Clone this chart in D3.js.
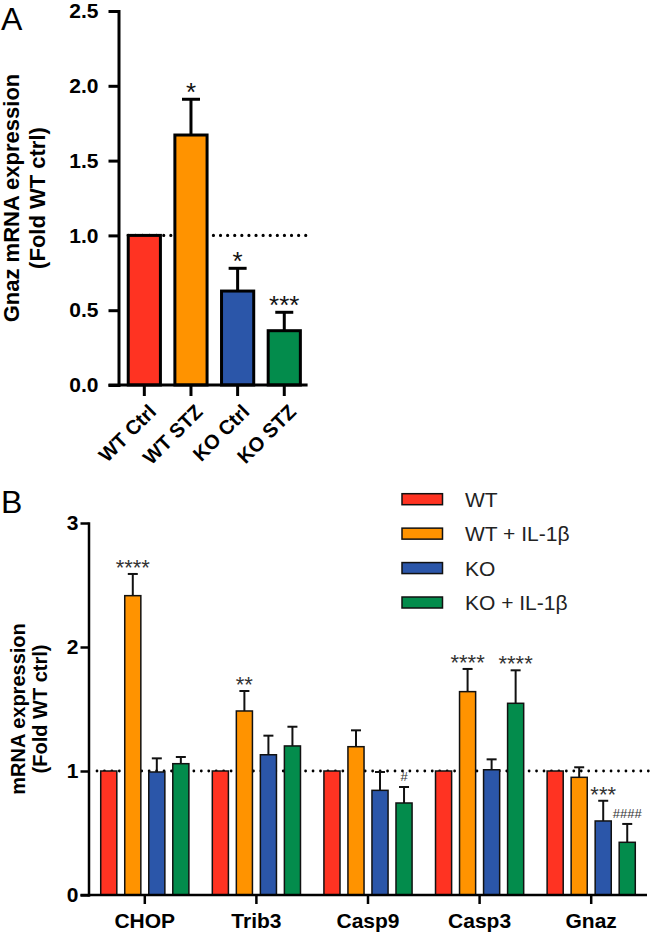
<!DOCTYPE html>
<html>
<head>
<meta charset="utf-8">
<script src="https://cdn.jsdelivr.net/npm/d3@7"></script>
<style>
  html, body { margin: 0; padding: 0; background: #fff; }
  svg { display: block; font-family: "Liberation Sans", Arial, Helvetica, sans-serif; }
</style>
</head>
<body>
<svg id="chart" width="654" height="935"></svg>
<script>
// ---------- Panel A data ----------
const groupsA = ["WT Ctrl", "WT STZ", "KO Ctrl", "KO STZ"];
const valuesA = [1.0, 1.671, 0.628, 0.363];
const errorsA = [0, 0.239, 0.152, 0.123];
const starsA = ["", "*", "*", "***"];
const ticksA = [0.0, 0.5, 1.0, 1.5, 2.0, 2.5];
const colorsA = ["#FF3322", "#FF9300", "#2B56A9", "#038C4C"];

// ---------- Panel B data ----------
const genesB = ["CHOP", "Trib3", "Casp9", "Casp3", "Gnaz"];
const seriesB = ["WT", "WT + IL-1\u03B2", "KO", "KO + IL-1\u03B2"];
const colorsB = ["#FF3322", "#FF9300", "#2B56A9", "#038C4C"];
const valWT    = [1, 1, 1, 1, 1];
const valWTIL  = [2.414, 1.484, 1.196, 1.640, 0.949];
const valKO    = [0.992, 1.131, 0.844, 1.010, 0.597];
const valKOIL  = [1.059, 1.202, 0.742, 1.546, 0.425];
const errWT    = [0, 0, 0, 0, 0];
const errWTIL  = [0.175, 0.161, 0.132, 0.183, 0.081];
const errKO    = [0.110, 0.154, 0.148, 0.084, 0.163];
const errKOIL  = [0.054, 0.155, 0.129, 0.266, 0.148];
const starsWTIL = ["****", "**", "", "****", ""];
const starsKO   = ["", "", "", "", "***"];
const starsKOIL = ["", "", "#", "****", "####"];
const ticksB = [0, 1, 2, 3];

const svg = d3.select("#chart");
const FONT = "'Liberation Sans', Arial, Helvetica, sans-serif";

// ================= Panel A =================
{
  const g = svg.append("g");
  const axisX = 118.5;
  const y = d3.scaleLinear().domain([0, 2.5]).range([385, 11]);
  const x = d3.scaleBand().domain(groupsA).range([121, 307.6]).paddingInner(0.31).paddingOuter(0.155);

  // reference dotted line at 1.0
  g.append("line")
    .attr("x1", x(groupsA[0])).attr("x2", 310)
    .attr("y1", y(1)).attr("y2", y(1))
    .attr("stroke", "#000").attr("stroke-width", 3.2)
    .attr("stroke-linecap", "round").attr("stroke-dasharray", "0,7.1");

  const data = groupsA.map((d, i) => ({g: d, v: valuesA[i], e: errorsA[i], s: starsA[i], c: colorsA[i]}));

  // error bars
  data.filter(d => d.e > 0).forEach(d => {
    const cx = x(d.g) + x.bandwidth() / 2;
    g.append("line").attr("x1", cx).attr("x2", cx).attr("y1", y(d.v)).attr("y2", y(d.v + d.e))
      .attr("stroke", "#000").attr("stroke-width", 3);
    g.append("line").attr("x1", cx - 9).attr("x2", cx + 9).attr("y1", y(d.v + d.e)).attr("y2", y(d.v + d.e))
      .attr("stroke", "#000").attr("stroke-width", 3);
  });

  // bars
  g.selectAll("rect.bar").data(data).enter().append("rect")
    .attr("x", d => x(d.g)).attr("width", x.bandwidth())
    .attr("y", d => y(d.v)).attr("height", d => y(0) - y(d.v))
    .attr("fill", d => d.c).attr("stroke", "#000").attr("stroke-width", 3);

  // stars
  g.selectAll("text.star").data(data.filter(d => d.s)).enter().append("text")
    .attr("x", d => x(d.g) + x.bandwidth() / 2)
    .attr("y", d => y(d.v + d.e) + 2)
    .attr("text-anchor", "middle").attr("font-size", 26).attr("fill", "#111")
    .text(d => d.s);

  // y axis
  const ya = g.append("g").attr("transform", `translate(${axisX},0)`)
    .call(d3.axisLeft(y).tickValues(ticksA).tickFormat(d3.format(".1f")).tickSize(10).tickSizeOuter(0).tickPadding(10));
  ya.select(".domain").attr("stroke-width", 3).attr("stroke-linecap", "square");
  ya.selectAll(".tick line").attr("stroke-width", 3);
  ya.selectAll(".tick text").attr("font-size", 21).attr("font-weight", "bold").attr("font-family", FONT).attr("fill", "#000");

  // x axis
  const xa = g.append("g").attr("transform", `translate(0,${y(0)})`)
    .call(d3.axisBottom(x).tickSize(11).tickSizeOuter(0).tickFormat(""));
  xa.select(".domain").remove();
  xa.selectAll(".tick line").attr("stroke-width", 3);
  g.append("line").attr("x1", axisX - 10).attr("x2", 307.6).attr("y1", y(0)).attr("y2", y(0))
    .attr("stroke", "#000").attr("stroke-width", 3);

  // rotated category labels
  g.selectAll("text.xl").data(groupsA).enter().append("text")
    .attr("transform", d => `translate(${x(d) + x.bandwidth() / 2 + 13},${y(0) + 28}) rotate(-45)`)
    .attr("text-anchor", "end").attr("font-size", 20).attr("font-weight", "bold").attr("fill", "#000")
    .text(d => d);

  // y title
  const cy = (y(0) + y(2.5)) / 2;
  g.append("text").attr("transform", `translate(19,${cy}) rotate(-90)`)
    .attr("text-anchor", "middle").attr("font-size", 22).attr("font-weight", "bold").text("Gnaz mRNA expression");
  g.append("text").attr("transform", `translate(45,${cy}) rotate(-90)`)
    .attr("text-anchor", "middle").attr("font-size", 22).attr("font-weight", "bold").text("(Fold WT ctrl)");

  // panel letter
  g.append("text").attr("x", 1).attr("y", 30).attr("font-size", 32).text("A");
}

// ================= Panel B =================
{
  const g = svg.append("g");
  const axisX = 88.5;
  const y = d3.scaleLinear().domain([0, 3]).range([895, 523]);
  const x0 = d3.scaleBand().domain(genesB).range([89, 647]).paddingInner(0.21).paddingOuter(0.105);
  const x1 = d3.scaleBand().domain(seriesB).range([0, x0.bandwidth()]).paddingInner(0.33).paddingOuter(0);
  const color = d3.scaleOrdinal().domain(seriesB).range(colorsB);

  const vals = [valWT, valWTIL, valKO, valKOIL];
  const errs = [errWT, errWTIL, errKO, errKOIL];
  const stars = [genesB.map(() => ""), starsWTIL, starsKO, starsKOIL];
  const data = [];
  genesB.forEach((gn, gi) => seriesB.forEach((s, si) => {
    data.push({gene: gn, s: s, v: vals[si][gi], e: errs[si][gi], star: stars[si][gi]});
  }));

  // reference dotted line
  g.append("line")
    .attr("x1", 97).attr("x2", 653)
    .attr("y1", y(1)).attr("y2", y(1))
    .attr("stroke", "#000").attr("stroke-width", 2.8)
    .attr("stroke-linecap", "round").attr("stroke-dasharray", "0,7.45");

  const cxOf = d => x0(d.gene) + x1(d.s) + x1.bandwidth() / 2;

  // error bars
  data.filter(d => d.e > 0).forEach(d => {
    const cx = cxOf(d);
    g.append("line").attr("x1", cx).attr("x2", cx).attr("y1", y(d.v)).attr("y2", y(d.v + d.e))
      .attr("stroke", "#111").attr("stroke-width", 2);
    g.append("line").attr("x1", cx - 5).attr("x2", cx + 5).attr("y1", y(d.v + d.e)).attr("y2", y(d.v + d.e))
      .attr("stroke", "#111").attr("stroke-width", 2);
  });

  // bars
  g.selectAll("rect.bar").data(data).enter().append("rect")
    .attr("x", d => x0(d.gene) + x1(d.s)).attr("width", x1.bandwidth())
    .attr("y", d => y(d.v)).attr("height", d => y(0) - y(d.v))
    .attr("fill", d => color(d.s)).attr("stroke", "#111").attr("stroke-width", 1.5);

  // stars / hashes
  g.selectAll("text.star").data(data.filter(d => d.star)).enter().append("text")
    .attr("x", cxOf)
    .attr("y", d => d.star.startsWith("#") ? y(d.v + d.e) - 6 : y(d.v + d.e) + 1)
    .attr("text-anchor", "middle")
    .attr("font-size", d => d.star.startsWith("#") ? 13 : 22)
    .attr("fill", "#333")
    .text(d => d.star);

  // y axis
  const ya = g.append("g").attr("transform", `translate(${axisX},0)`)
    .call(d3.axisLeft(y).tickValues(ticksB).tickFormat(d3.format("d")).tickSize(8).tickSizeOuter(0).tickPadding(2));
  ya.select(".domain").attr("stroke-width", 2.5).attr("stroke-linecap", "square");
  ya.selectAll(".tick line").attr("stroke-width", 2.5);
  ya.selectAll(".tick text").attr("font-size", 21).attr("font-weight", "bold").attr("font-family", FONT).attr("fill", "#000");

  // x axis
  const xa = g.append("g").attr("transform", `translate(0,${y(0)})`)
    .call(d3.axisBottom(x0).tickSize(9).tickSizeOuter(0).tickPadding(9));
  xa.select(".domain").remove();
  xa.selectAll(".tick line").attr("stroke-width", 2.5);
  xa.selectAll(".tick text").attr("font-size", 21).attr("font-weight", "bold").attr("font-family", FONT).attr("fill", "#000");
  g.append("line").attr("x1", axisX - 8).attr("x2", 647).attr("y1", y(0)).attr("y2", y(0))
    .attr("stroke", "#000").attr("stroke-width", 2.5);

  // y title
  const cy = (y(0) + y(3)) / 2;
  g.append("text").attr("transform", `translate(25,${cy}) rotate(-90)`)
    .attr("text-anchor", "middle").attr("font-size", 20).attr("font-weight", "bold").text("mRNA expression");
  g.append("text").attr("transform", `translate(47,${cy}) rotate(-90)`)
    .attr("text-anchor", "middle").attr("font-size", 20).attr("font-weight", "bold").text("(Fold WT ctrl)");

  // legend
  const lg = g.append("g");
  const ly = d3.scalePoint().domain(seriesB).range([499.2, 602.5]);
  seriesB.forEach(s => {
    lg.append("rect").attr("x", 402).attr("y", ly(s) - 5.5).attr("width", 40.5).attr("height", 11)
      .attr("fill", color(s)).attr("stroke", "#111").attr("stroke-width", 1.5);
    lg.append("text").attr("x", 465).attr("y", ly(s) + 7.5).attr("font-size", 21).attr("fill", "#222").text(s);
  });

  // panel letter
  g.append("text").attr("x", 1).attr("y", 513).attr("font-size", 32).text("B");
}
</script>
</body>
</html>
